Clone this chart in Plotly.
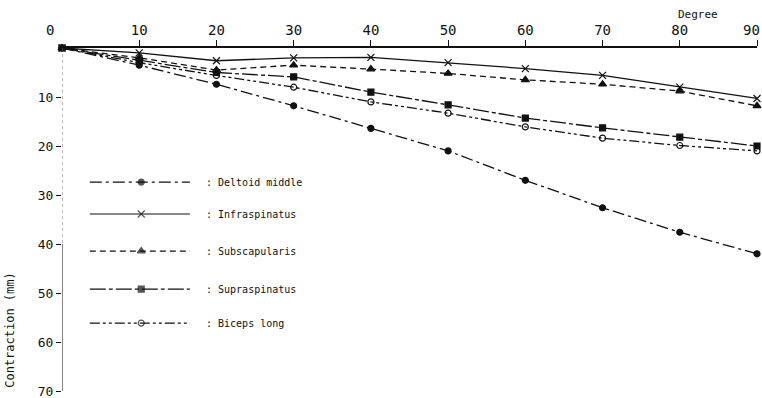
import plotly.graph_objects as go

# Shoulder abduction angle (degrees) and muscle contraction (mm)
degrees = [0, 10, 20, 30, 40, 50, 60, 70, 80, 90]
deltoid_middle = [0, 3.5, 7.4, 11.8, 16.4, 21.0, 27.0, 32.6, 37.6, 42.0]
infraspinatus = [0, 1.0, 2.6, 2.0, 1.9, 3.0, 4.2, 5.6, 8.0, 10.3]
subscapularis = [0, 2.0, 4.5, 3.5, 4.3, 5.2, 6.5, 7.4, 8.8, 11.8]
supraspinatus = [0, 2.5, 5.0, 5.9, 9.0, 11.6, 14.3, 16.3, 18.2, 20.0]
biceps_long = [0, 3.0, 5.6, 8.0, 11.0, 13.3, 16.1, 18.4, 19.9, 21.0]

x_ticks = [10, 20, 30, 40, 50, 60, 70, 80, 90]
y_ticks = [10, 20, 30, 40, 50, 60, 70]

series = [
    ("Deltoid middle", deltoid_middle, "12px,4px,3px,4px", "circle", 6),
    ("Infraspinatus", infraspinatus, "solid", "x-thin", 7),
    ("Subscapularis", subscapularis, "6px,4px", "triangle-up", 7),
    ("Supraspinatus", supraspinatus, "16px,3px,4px,3px", "square", 6),
    ("Biceps long", biceps_long, "10px,3px,3px,3px,3px,3px", "circle-open", 6),
]

MONO = "DejaVu Sans Mono"
INK = "#111111"

fig = go.Figure()

for name, vals, dash, symbol, size in series:
    fig.add_trace(go.Scatter(
        x=degrees, y=vals, name=name, mode="lines+markers",
        line=dict(color=INK, width=1.3, dash=dash),
        marker=dict(symbol=symbol, size=size, color=INK,
                    line=dict(color=INK, width=1.2)),
        showlegend=False, cliponaxis=False,
    ))

# Hand-drawn style key, placed on an overlay axis spanning the plot area
key_rows = [0.609, 0.516, 0.408, 0.297, 0.198]
key_x = [0.040, 0.114, 0.184]
key_text_x = 0.204
for (name, vals, dash, symbol, size), ry in zip(series, key_rows):
    fig.add_trace(go.Scatter(
        x=key_x, y=[ry] * 3, mode="lines+markers",
        xaxis="x2", yaxis="y2",
        line=dict(color=INK, width=1.2, dash=dash),
        marker=dict(symbol=symbol, size=[0, size, 0], color=INK,
                    line=dict(color=INK, width=1.2)),
        showlegend=False, hoverinfo="skip",
    ))
    fig.add_annotation(
        x=key_text_x, y=ry, xref="paper", yref="paper",
        text=": " + name, showarrow=False, xanchor="left", yanchor="middle",
        font=dict(family=MONO, size=10, color=INK),
    )

# Left axis: faint upper part, solid lower part
fig.add_shape(type="line", xref="x", yref="y", x0=0, x1=0, y0=0, y1=40,
              line=dict(color="#777777", width=1, dash="dot"))
fig.add_shape(type="line", xref="x", yref="y", x0=0, x1=0, y0=40, y1=70,
              line=dict(color=INK, width=1))

# End labels of the degree axis, kept inside the page
tick_text = [str(v) for v in x_ticks]
tick_text[-1] = ""
fig.add_annotation(x=0, y=1, xref="paper", yref="paper", text="0",
                   showarrow=False, xshift=-18, yshift=18, yanchor="middle",
                   font=dict(family=MONO, size=14, color=INK))
fig.add_annotation(x=x_ticks[-1], y=1, xref="x", yref="paper",
                   text=str(x_ticks[-1]), showarrow=False, xanchor="right",
                   xshift=5, yshift=18, yanchor="middle",
                   font=dict(family=MONO, size=14, color=INK))
fig.add_annotation(x=0.947, y=1.099, xref="paper", yref="paper", text="Degree",
                   showarrow=False, yanchor="middle",
                   font=dict(family=MONO, size=11, color=INK))
fig.add_annotation(x=-0.075, y=0.178, xref="paper", yref="paper",
                   text="Contraction (mm)", textangle=-90, showarrow=False,
                   xanchor="center", yanchor="middle",
                   font=dict(family=MONO, size=12, color=INK))

fig.update_layout(
    width=762, height=398,
    margin=dict(l=62, r=5, t=48, b=7, autoexpand=False),
    paper_bgcolor="white", plot_bgcolor="white",
    xaxis=dict(
        side="top", range=[0, 90], tickvals=x_ticks,
        ticktext=tick_text, automargin=False,
        showgrid=False, zeroline=False, showline=True,
        linecolor=INK, linewidth=1.5, ticks="outside", ticklen=6,
        tickcolor=INK, tickwidth=1, ticklabeloverflow="allow",
        tickfont=dict(family=MONO, size=14, color=INK),
    ),
    yaxis=dict(
        range=[70, 0], tickvals=y_ticks,
        ticktext=[str(v) for v in y_ticks], automargin=False,
        showgrid=False, zeroline=False, showline=False,
        ticks="outside", ticklen=5, tickcolor=INK, tickwidth=1,
        ticklabeloverflow="allow",
        tickfont=dict(family=MONO, size=13, color=INK),
    ),
    xaxis2=dict(overlaying="x", range=[0, 1], visible=False),
    yaxis2=dict(overlaying="y", range=[0, 1], visible=False),
)

fig.write_html("out.html")
